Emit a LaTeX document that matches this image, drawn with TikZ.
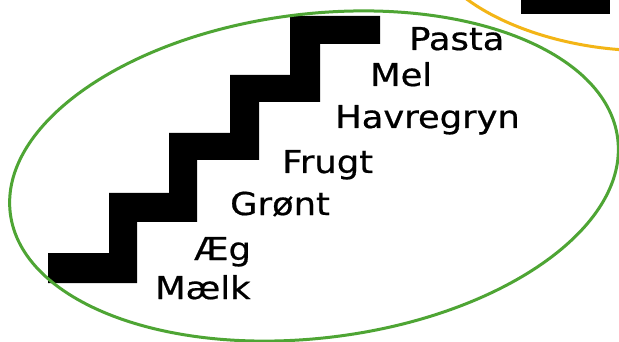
\documentclass[tikz,border=0pt]{standalone}
\usepackage{fontspec}
\setmainfont{DejaVu Sans}
\newfontfamily\lblfont[FakeBold=0.6]{DejaVu Sans}
\definecolor{ringgreen}{RGB}{78,165,52}
\definecolor{ringorange}{RGB}{243,181,22}
\tikzset{
  lbl/.style={anchor=base west, inner sep=0pt, font=\lblfont\fontsize{31.5}{37}\selectfont, xscale=1.12, transform shape},
  ring/.style={line width=3pt}
}
\begin{document}
\begin{tikzpicture}[x=1pt,y=-1pt]
\useasboundingbox (0,0) rectangle (619,342);
\clip (0,0) rectangle (619,342);
\fill[white] (0,0) rectangle (619,342);
% neighbouring group (partly visible)
\draw[ring, ringorange] (464,-3) .. controls (500,25) and (560,46) .. (625,50);
\fill[black] (521,-2) rectangle (610,14);
% staircase
\fill[black] (48,253) -- (109,253) -- (109,193) -- (169,193) -- (169,133) -- (230,133)
  -- (230,75) -- (290,75) -- (290,16) -- (380,16) -- (380,44) -- (320,44) -- (320,102)
  -- (259,102) -- (259,160) -- (197,160) -- (197,222) -- (137,222) -- (137,283) -- (48,283) -- cycle;
% labels
\node[lbl] (pasta) at (409,50) {Pasta};
\node[lbl] (mel) at (370,86) {Mel};
\node[lbl] (havre) at (335,128) {Havregryn};
\node[lbl] (frugt) at (282,173) {Frugt};
\node[lbl] (gront) at (230,215) {Grønt};
\node[lbl] (aeg) at (194,260) {Æg};
\node[lbl] (maelk) at (155,299) {Mælk};
% green group
\draw[ring, ringgreen, rotate around={7:(314,176)}] (314,176) ellipse [x radius=306pt, y radius=162pt];
\end{tikzpicture}
\end{document}
